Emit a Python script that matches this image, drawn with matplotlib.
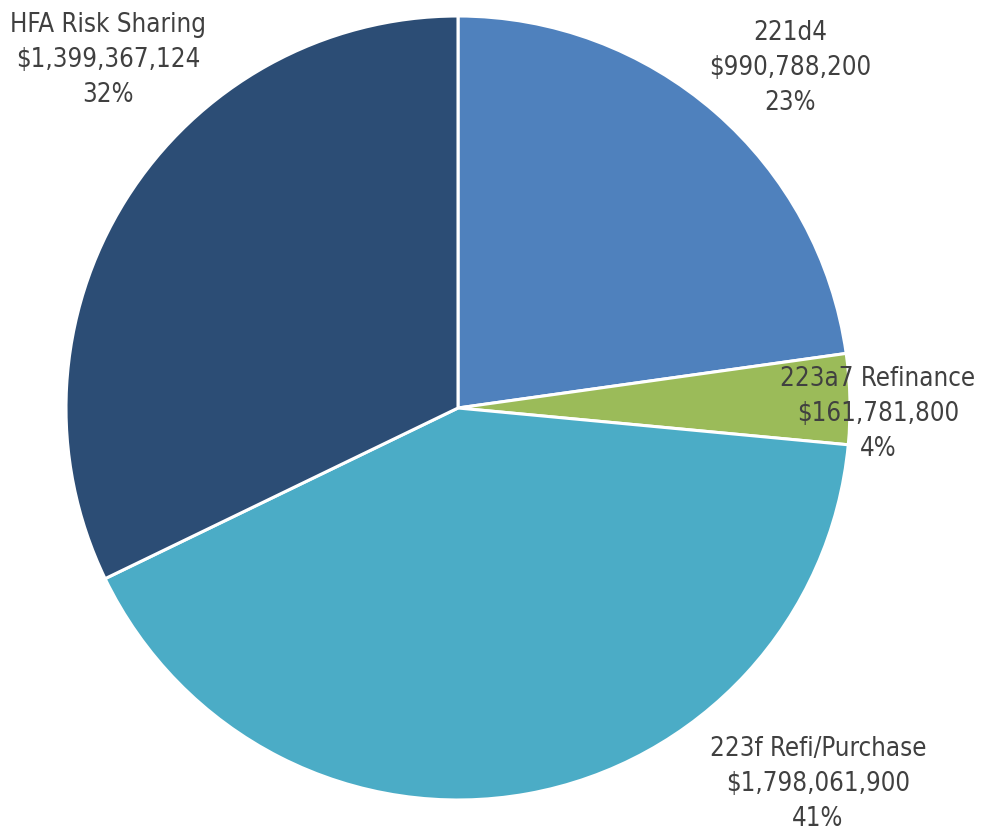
import matplotlib
matplotlib.use("Agg")
import matplotlib.pyplot as plt

# loan programs and dollar volume
programs = ["221d4", "223a7 Refinance", "223f Refi/Purchase", "HFA Risk Sharing"]
amounts = [990788200, 161781800, 1798061900, 1399367124]
colors = ["#4F81BD", "#9BBB59", "#4BACC6", "#2C4D75"]

# label anchor spots (pie units, radius = 1)
label_xy = [(0.847, 0.867), (1.071, -0.015), (0.918, -0.959), (-0.893, 0.888)]

plt.rcParams['font.family'] = ['DejaVu Sans']

fig = plt.figure(figsize=(9.84, 8.35), dpi=100)
ax = fig.add_axes([0, 0, 1, 1])

ax.pie(amounts, colors=colors, startangle=90, counterclock=False,
       radius=1.0, wedgeprops=dict(edgecolor="white", linewidth=2.2))

total = float(sum(amounts))
for name, amt, (x, y) in zip(programs, amounts, label_xy):
    pct = int(round(100 * amt / total))
    txt = name + "\n${:,}".format(amt) + "\n" + str(pct) + "%"
    ax.text(x, y, txt, ha="center", va="center", fontsize=18.5,
            fontstretch="condensed", color="#404040", linespacing=1.45)

ax.set_aspect("auto")
ax.set_xlim(-458 / 392, (984 - 458) / 392)
ax.set_ylim(-(835 - 408) / 392, 408 / 392)
ax.axis("off")

fig.savefig("out.png", dpi=100)
